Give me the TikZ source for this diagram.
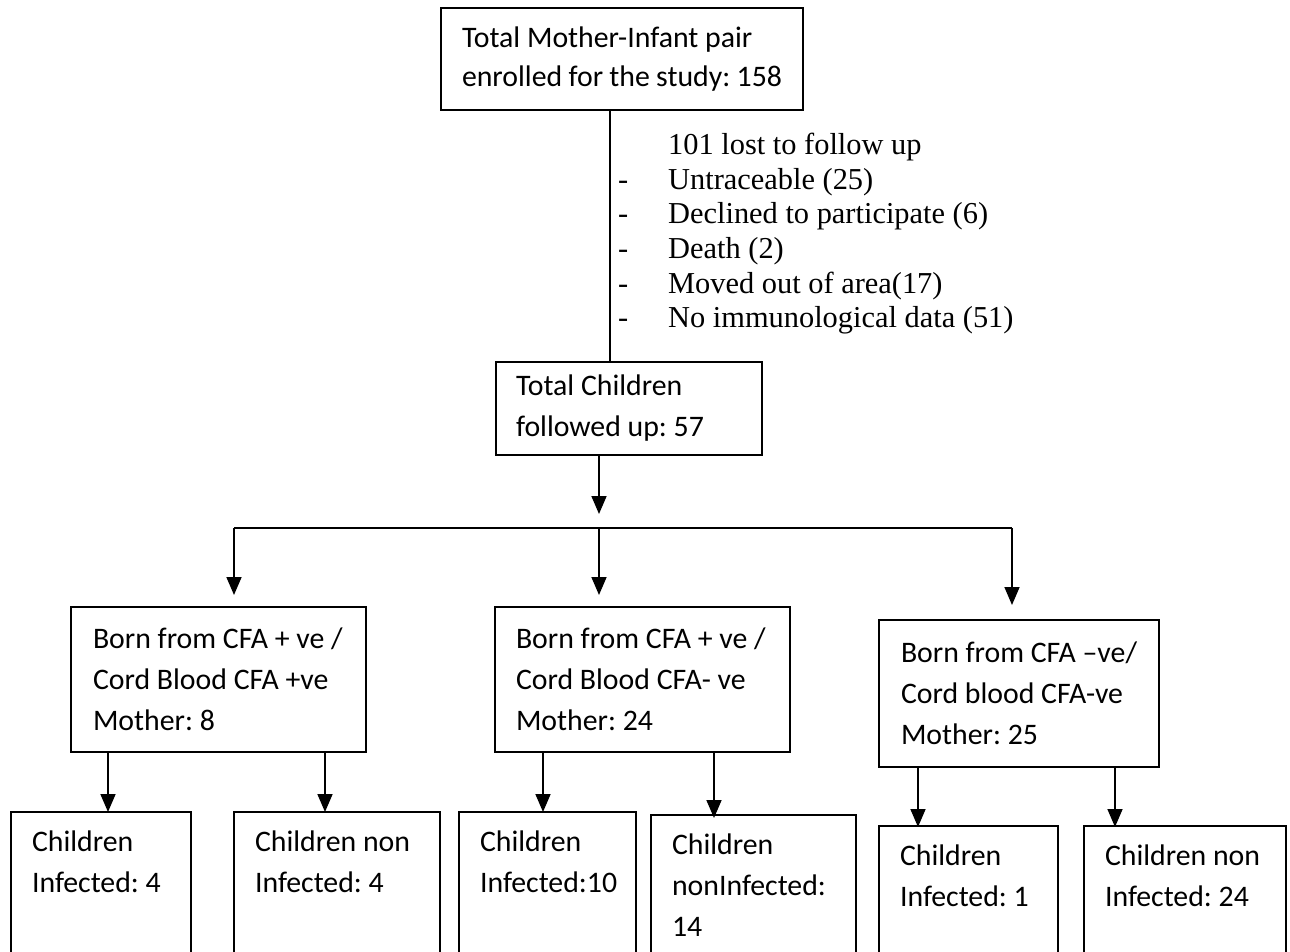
\documentclass[tikz,border=0pt]{standalone}
\usepackage{fontspec}
\newfontfamily\calfont{Carlito}
\newfontfamily\serfont{Liberation Serif}
\usetikzlibrary{arrows.meta}
\frenchspacing
\newcommand{\cbox}[4]{\parbox[c][#2pt][#3]{#1pt}{\raggedright #4}}
\tikzset{
  fbox/.style={draw, line width=2pt, inner xsep=21pt, inner ysep=0pt, outer sep=0pt,
    anchor=north west, font=\calfont\fontsize{29.8}{41}\selectfont},
  conn/.style={line width=1.7pt},
  arr/.style={line width=1.7pt, -{Triangle[length=18pt,width=15pt]}},
}
\begin{document}
\begin{tikzpicture}[x=1pt,y=-1pt]
\useasboundingbox (0,0) rectangle (1290,952);
\clip (0,0) rectangle (1290,952);
\fill[white] (0,0) rectangle (1290,952);
% top box
\node[fbox] (top) at (441,8) {\cbox{320}{102}{c}{\fontsize{29.8}{39}\selectfont Total Mother-Infant pair\\enrolled for the study: 158}};
% children box
\node[fbox, inner xsep=20pt] (mid) at (496,362) {\cbox{226}{93}{c}{Total Children\\followed up: 57}};
% lost to follow up
\node[anchor=north west, inner sep=0pt, align=left, font=\serfont\fontsize{30.4}{34.6}\selectfont] (lost) at (618,133)
  {\hspace*{50pt}101 lost to follow up\\
   \makebox[50pt][l]{-}Untraceable (25)\\
   \makebox[50pt][l]{-}Declined to participate (6)\\
   \makebox[50pt][l]{-}Death (2)\\
   \makebox[50pt][l]{-}Moved out of area(17)\\
   \makebox[50pt][l]{-}No immunological data (51)};
% second level
\node[fbox, inner xsep=22pt] (g1) at (71,607) {\cbox{251}{145}{c}{Born from CFA + ve /\\Cord Blood CFA +ve\\Mother: 8}};
\node[fbox] (g2) at (495,607) {\cbox{253}{145}{c}{Born from CFA + ve /\\Cord Blood CFA- ve\\Mother: 24}};
\node[fbox, inner xsep=22pt] (g3) at (879,620) {\cbox{236}{147}{c}{Born from CFA –ve/\\Cord blood CFA-ve\\Mother: 25}};
% leaves
\node[fbox] (a) at (11,812) {\cbox{138}{200}{t}{\vspace*{19pt}Children\\Infected: 4}};
\node[fbox] (b) at (234,812) {\cbox{164}{200}{t}{\vspace*{19pt}Children non\\Infected: 4}};
\node[fbox] (c) at (459,812) {\cbox{135}{200}{t}{\vspace*{19pt}Children\\Infected:10}};
\node[fbox] (d) at (651,815) {\cbox{163}{200}{t}{\vspace*{19pt}Children\\nonInfected:\\14}};
\node[fbox] (e) at (879,826) {\cbox{137}{200}{t}{\vspace*{19pt}Children\\Infected: 1}};
\node[fbox] (f) at (1084,826) {\cbox{160}{200}{t}{\vspace*{19pt}Children non\\Infected: 24}};
% connectors
\coordinate (vx) at (610,0);
\draw[conn] (top.south -| vx) -- (mid.north -| vx);
\coordinate (midtip) at (599,514);
\coordinate (hl) at (234,528);
\coordinate (hm) at (599,528);
\coordinate (hr) at (1012,528);
\coordinate (tl) at (234,595);
\coordinate (tm) at (599,595);
\coordinate (tr) at (1012,605);
\draw[arr] (mid.south -| midtip) -- (midtip);
\draw[conn] (hl) -- (hr);
\draw[arr] (hl) -- (tl);
\draw[arr] (hm) -- (tm);
\draw[arr] (hr) -- (tr);
\coordinate (xa) at (108,0);
\coordinate (xb) at (325,0);
\coordinate (xc) at (543,0);
\coordinate (xd) at (714,0);
\coordinate (xe) at (918,0);
\coordinate (xf) at (1115,0);
\draw[arr] (g1.south -| xa) -- (a.north -| xa);
\draw[arr] (g1.south -| xb) -- (b.north -| xb);
\draw[arr] (g2.south -| xc) -- (c.north -| xc);
\draw[arr] (g2.south -| xd) -- ([yshift=-3pt]d.north -| xd);
\draw[arr] (g3.south -| xe) -- ([yshift=-1pt]e.north -| xe);
\draw[arr] (g3.south -| xf) -- ([yshift=-1pt]f.north -| xf);
\end{tikzpicture}
\end{document}
